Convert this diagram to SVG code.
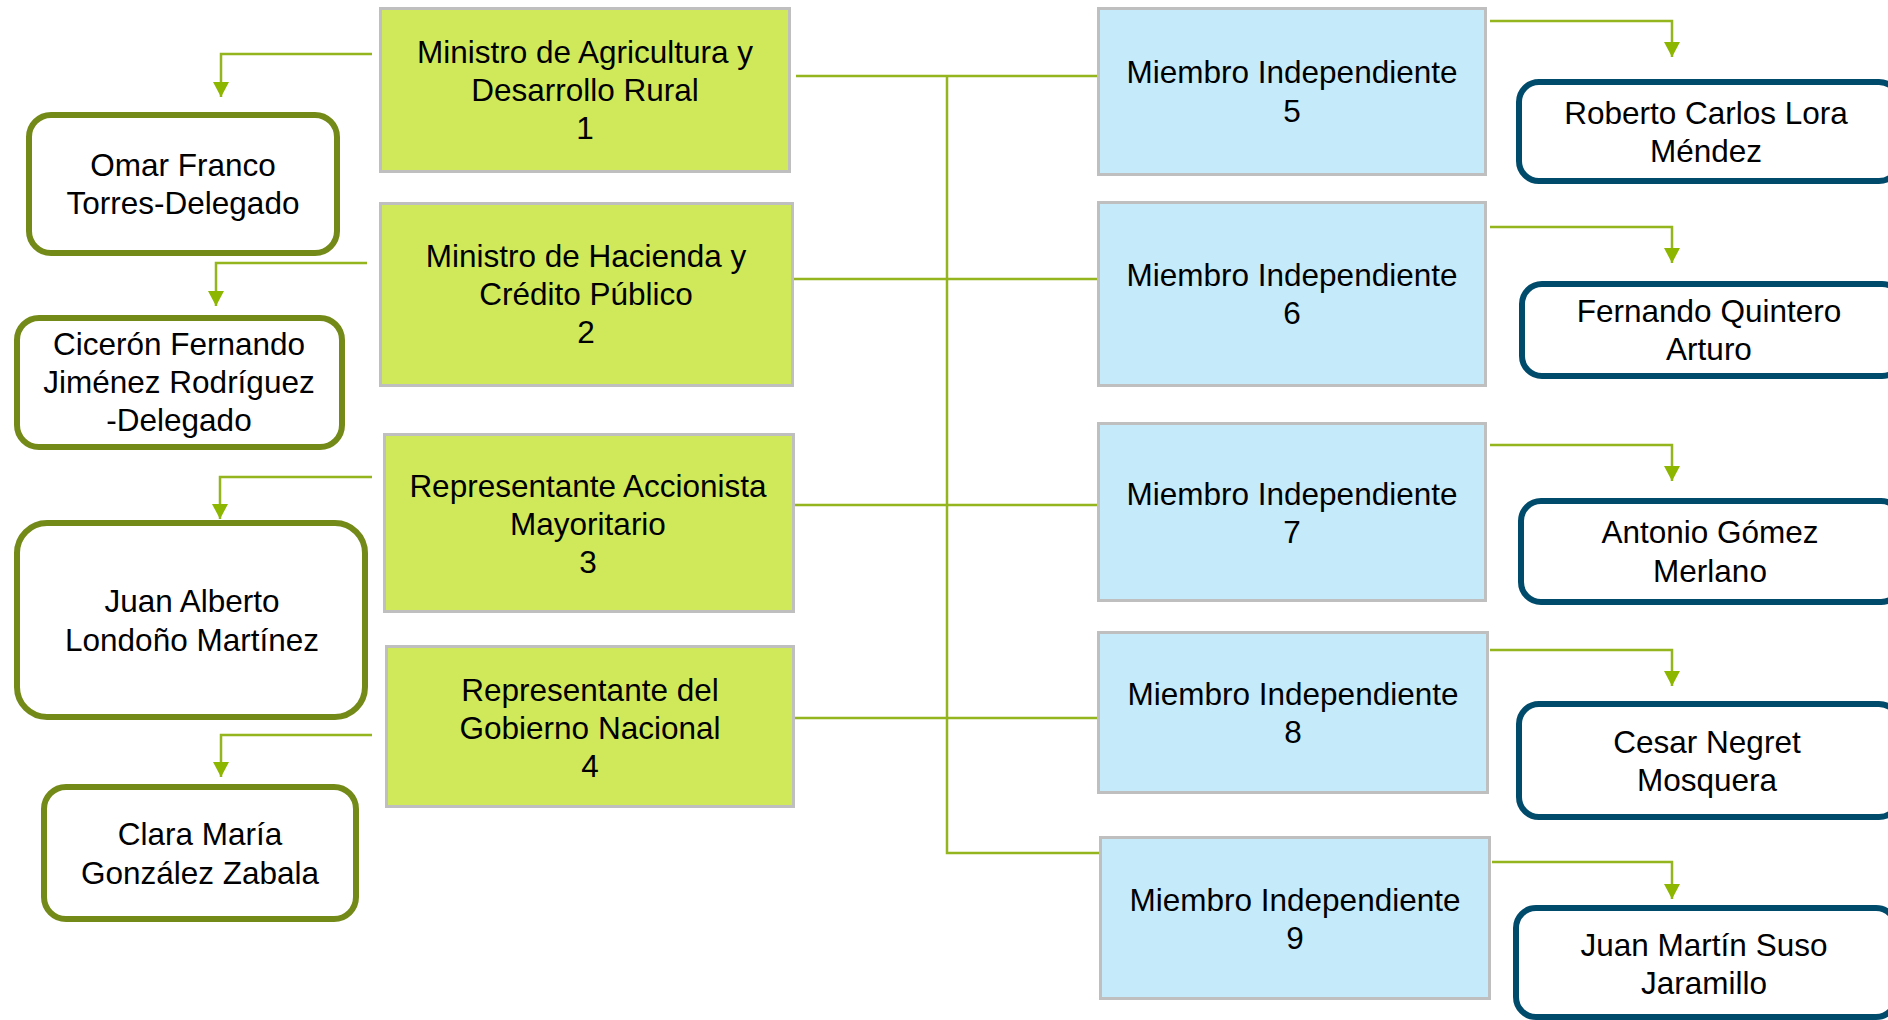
<svg xmlns="http://www.w3.org/2000/svg" width="1888" height="1020" viewBox="0 0 1888 1020">
<style>
text{font-family:"Liberation Sans",Arial,sans-serif;font-size:31.5px;fill:#000;text-anchor:middle}
.g{fill:#d0e95b;stroke:#bfbfbf;stroke-width:3}
.b{fill:#c5ebfb;stroke:#bfbfbf;stroke-width:3}
.o{fill:#fff;stroke:#738a18;stroke-width:6}
.t{fill:#fff;stroke:#004b6b;stroke-width:6}
.c{fill:none;stroke:#94b51e;stroke-width:2.5}
.a{fill:none;stroke:#94b51e;stroke-width:2.5;marker-end:url(#ah)}
</style>
<defs>
<marker id="ah" viewBox="0 0 16 16" refX="15" refY="8" markerWidth="16" markerHeight="16" markerUnits="userSpaceOnUse" orient="auto">
<path d="M0,0 L15,8 L0,16 z" fill="#8db600"/>
</marker>
</defs>
<rect width="1888" height="1020" fill="#fff"/>
<g id="connectors">
<path class="a" d="M372 54 H221 V97"/>
<path class="a" d="M367 263 H216 V306"/>
<path class="a" d="M372 477 H220 V519"/>
<path class="a" d="M372 735 H221 V777"/>
<path class="c" d="M796 76 H1102"/>
<path class="c" d="M947 76 V853 H1100"/>
<path class="c" d="M794 279 H1098"/>
<path class="c" d="M795 505 H1099"/>
<path class="c" d="M795 718 H1098"/>
<path class="a" d="M1490 21 H1672 V57"/>
<path class="a" d="M1490 227 H1672 V263"/>
<path class="a" d="M1490 445 H1672 V481"/>
<path class="a" d="M1490 650 H1672 V686"/>
<path class="a" d="M1492 862 H1672 V899"/>
</g>
<g id="n1"><rect class="g" x="380.5" y="8.5" width="409" height="163"/><text x="585" y="63">Ministro de Agricultura y</text><text x="585" y="101">Desarrollo Rural</text><text x="585" y="139">1</text></g>
<g id="n2"><rect class="g" x="380.5" y="203.5" width="412" height="182"/><text x="586" y="267">Ministro de Hacienda y</text><text x="586" y="305">Crédito Público</text><text x="586" y="343">2</text></g>
<g id="n3"><rect class="g" x="384.5" y="434.5" width="409" height="177"/><text x="588" y="497">Representante Accionista</text><text x="588" y="535">Mayoritario</text><text x="588" y="573">3</text></g>
<g id="n4"><rect class="g" x="386.5" y="646.5" width="407" height="160"/><text x="590" y="701">Representante del</text><text x="590" y="739">Gobierno Nacional</text><text x="590" y="777">4</text></g>
<g id="d1"><rect class="o" x="29" y="115" width="308" height="138" rx="22"/><text x="183" y="176">Omar Franco</text><text x="183" y="214">Torres-Delegado</text></g>
<g id="d2"><rect class="o" x="17" y="318" width="325" height="129" rx="22"/><text x="179" y="355">Cicerón Fernando</text><text x="179" y="393">Jiménez Rodríguez</text><text x="179" y="431">-Delegado</text></g>
<g id="d3"><rect class="o" x="17" y="523" width="348" height="194" rx="30"/><text x="192" y="612">Juan Alberto</text><text x="192" y="651">Londoño Martínez</text></g>
<g id="d4"><rect class="o" x="44" y="787" width="312" height="132" rx="22"/><text x="200" y="845">Clara María</text><text x="200" y="884">González Zabala</text></g>
<g id="m5"><rect class="b" x="1098.5" y="8.5" width="387" height="166"/><text x="1292" y="83">Miembro Independiente</text><text x="1292" y="122">5</text></g>
<g id="m6"><rect class="b" x="1098.5" y="202.5" width="387" height="183"/><text x="1292" y="286">Miembro Independiente</text><text x="1292" y="324">6</text></g>
<g id="m7"><rect class="b" x="1098.5" y="423.5" width="387" height="177"/><text x="1292" y="505">Miembro Independiente</text><text x="1292" y="543">7</text></g>
<g id="m8"><rect class="b" x="1098.5" y="632.5" width="389" height="160"/><text x="1293" y="705">Miembro Independiente</text><text x="1293" y="743">8</text></g>
<g id="m9"><rect class="b" x="1100.5" y="837.5" width="389" height="161"/><text x="1295" y="911">Miembro Independiente</text><text x="1295" y="949">9</text></g>
<g id="r5"><rect class="t" x="1519" y="82" width="380" height="99" rx="20"/><text x="1706" y="124">Roberto Carlos Lora</text><text x="1706" y="162">Méndez</text></g>
<g id="r6"><rect class="t" x="1522" y="284" width="380" height="92" rx="20"/><text x="1709" y="322">Fernando Quintero</text><text x="1709" y="360">Arturo</text></g>
<g id="r7"><rect class="t" x="1521" y="501" width="380" height="101" rx="20"/><text x="1710" y="543">Antonio Gómez</text><text x="1710" y="582">Merlano</text></g>
<g id="r8"><rect class="t" x="1519" y="704" width="380" height="113" rx="20"/><text x="1707" y="753">Cesar Negret</text><text x="1707" y="791">Mosquera</text></g>
<g id="r9"><rect class="t" x="1516" y="908" width="380" height="109" rx="20"/><text x="1704" y="956">Juan Martín Suso</text><text x="1704" y="994">Jaramillo</text></g>
</svg>
